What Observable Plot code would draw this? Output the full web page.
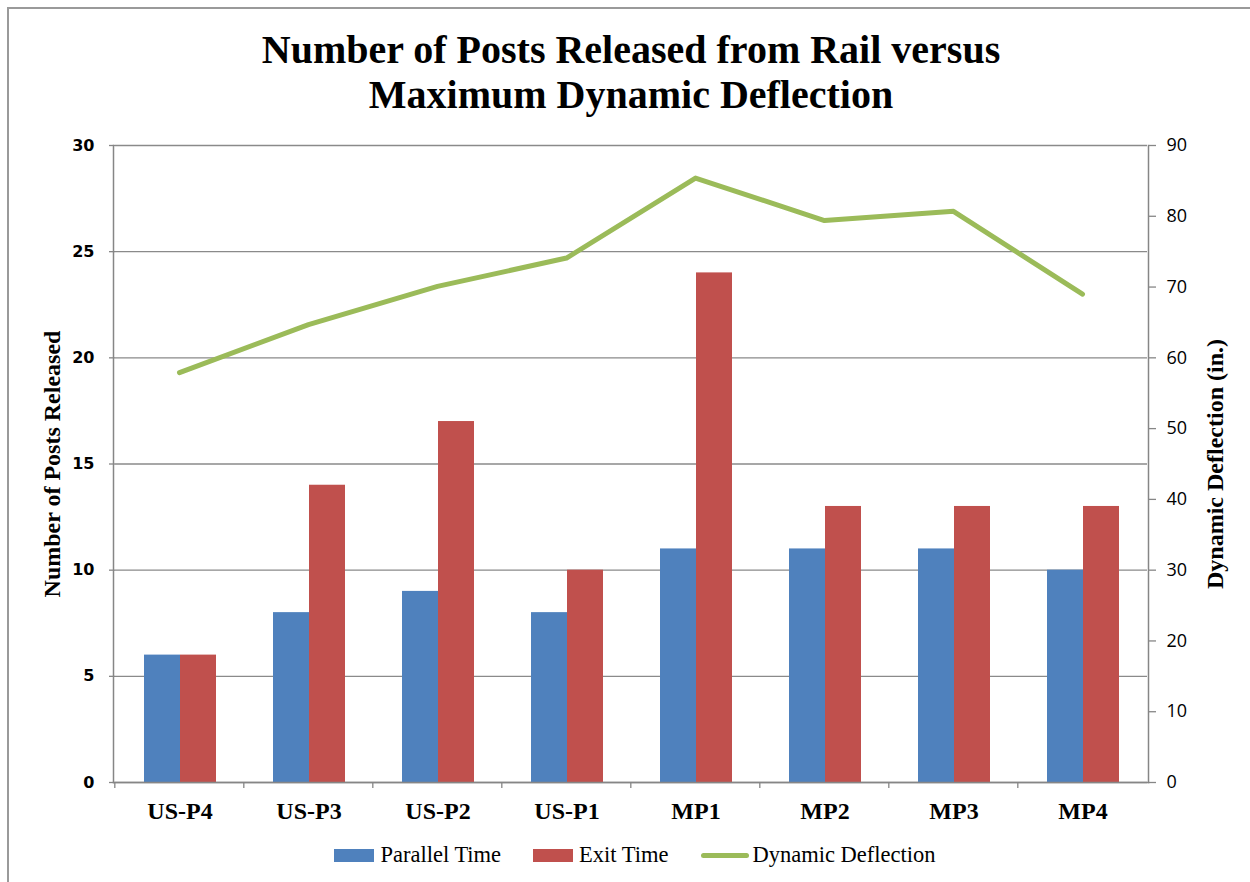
<!DOCTYPE html>
<html>
<head>
<meta charset="utf-8">
<script src="https://cdn.jsdelivr.net/npm/d3@7"></script>
<script src="https://cdn.jsdelivr.net/npm/@observablehq/plot@0.6"></script>
<style>
  body { margin: 0; background: #fff; }
  #wrap { position: relative; width: 1250px; height: 882px; overflow: hidden; background: #fff; }
  #frame { position: absolute; left: 7px; top: 7px; right: -10px; bottom: -10px;
           border-top: 2px solid #9a9a9a; border-left: 2px solid #9a9a9a; }
  #title { position: absolute; top: 27px; left: 0; width: 1262px; text-align: center;
           font: bold 40px "Liberation Serif", "Times New Roman", serif; line-height: 45px; color: #000; }
  .layer { position: absolute; left: 0; top: 120px; }
  #legend { position: absolute; top: 841px; left: 0; width: 1270px; height: 28px; display: flex;
            justify-content: center; align-items: center;
            font: 22.5px "Liberation Serif", "Times New Roman", serif; color: #000; }
  .item { display: flex; align-items: center; margin: 0 16px; }
  .sw { width: 40px; height: 13px; margin-right: 6px; }
  .ln { width: 48px; height: 5px; border-radius: 3px; margin-right: 4px; }
</style>
</head>
<body>
<div id="wrap">
  <div id="frame"></div>
  <div id="title">Number of Posts Released from Rail versus<br>Maximum Dynamic Deflection</div>
  <div id="bars" class="layer"></div>
  <div id="lines" class="layer"></div>
  <div id="legend"></div>
</div>
<script>
// ---- data ----
const categories = ["US-P4", "US-P3", "US-P2", "US-P1", "MP1", "MP2", "MP3", "MP4"];
const parallelTime = [6, 8, 9, 8, 11, 11, 11, 10];
const exitTime = [6, 14, 17, 10, 24, 13, 13, 13];
const dynamicDeflection = [57.9, 64.7, 70.1, 74.1, 85.4, 79.4, 80.7, 69.0];
const leftTicks = [0, 5, 10, 15, 20, 25, 30];
const rightTicks = [0, 10, 20, 30, 40, 50, 60, 70, 80, 90];
const seriesNames = ["Parallel Time", "Exit Time", "Dynamic Deflection"];
const seriesColors = ["#4F81BD", "#C0504D", "#9BBB59"];
const leftTitle = "Number of Posts Released";
const rightTitle = "Dynamic Deflection (in.)";

// ---- layout ----
const W = 1250, H = 720, ML = 113, MR = 102, MT = 25, MB = 58;
const axisGray = "#868686";
const serif = "Liberation Serif, Times New Roman, serif";

const bars = categories.flatMap((c, i) => [
  {category: c, series: seriesNames[0], value: parallelTime[i]},
  {category: c, series: seriesNames[1], value: exitTime[i]}
]);
const lineData = categories.map((c, i) => ({category: c, value: dynamicDeflection[i]}));

const barPlot = Plot.plot({
  width: W, height: H, marginLeft: ML, marginRight: MR, marginTop: MT, marginBottom: MB,
  style: {background: "transparent", color: "black", overflow: "visible"},
  fx: {domain: categories, padding: 0, label: null},
  x: {domain: seriesNames.slice(0, 2), paddingInner: 0, paddingOuter: 0.7626, axis: null},
  y: {domain: [0, 30], axis: null},
  color: {domain: seriesNames, range: seriesColors},
  marks: [
    Plot.gridY(leftTicks, {stroke: "#8a8a8a", strokeOpacity: 1, strokeWidth: 1.3}),
    Plot.barY(bars, {fx: "category", x: "series", y: "value", fill: "series"}),
    Plot.axisFx({anchor: "bottom", label: null, tickSize: 0, tickPadding: 19,
      fontSize: 24, fontWeight: "bold", fontFamily: serif, fill: "black"}),
    Plot.axisY(leftTicks, {anchor: "left", label: null, tickSize: 6, tickPadding: 15,
      stroke: axisGray, strokeWidth: 1.3, fill: "black",
      fontSize: 16, fontWeight: "bold", fontFamily: "DejaVu Sans, sans-serif"})
  ]
});
document.getElementById("bars").appendChild(barPlot);

const halfBand = (W - ML - MR) / categories.length / 2;

const linePlot = Plot.plot({
  width: W, height: H, marginLeft: ML, marginRight: MR, marginTop: MT, marginBottom: MB,
  style: {background: "transparent", color: "black", overflow: "visible"},
  x: {type: "point", domain: categories, padding: 0.5, axis: null},
  y: {domain: [0, 90], axis: null},
  marks: [
    Plot.frame({anchor: "left", stroke: axisGray, strokeWidth: 1.5}),
    Plot.frame({anchor: "right", stroke: axisGray, strokeWidth: 1.5}),
    Plot.frame({anchor: "bottom", stroke: axisGray, strokeWidth: 1.5}),
    Plot.axisX({anchor: "bottom", tickSize: 6, tickFormat: () => "", dx: -halfBand,
      stroke: axisGray, strokeWidth: 1.3, label: null}),
    Plot.axisY(rightTicks, {anchor: "right", label: null, tickSize: 7, tickPadding: 11,
      stroke: axisGray, strokeWidth: 1.3, fill: "black",
      fontSize: 18, fontFamily: "Open Sans, sans-serif"}),
    Plot.line(lineData, {x: "category", y: "value", stroke: seriesColors[2], strokeWidth: 5,
      strokeLinecap: "round", strokeLinejoin: "round"}),
    Plot.text([leftTitle], {text: d => d, frameAnchor: "left", dx: -61, rotate: -90,
      textAnchor: "middle", lineAnchor: "middle",
      fontSize: 24, fontWeight: "bold", fontFamily: serif, fill: "black"}),
    Plot.text([rightTitle], {text: d => d, frameAnchor: "right", dx: 67, rotate: -90,
      textAnchor: "middle", lineAnchor: "middle",
      fontSize: 24, fontWeight: "bold", fontFamily: serif, fill: "black"})
  ]
});
document.getElementById("lines").appendChild(linePlot);

// ---- legend ----
const legend = document.getElementById("legend");
seriesNames.forEach((name, i) => {
  const item = document.createElement("div");
  item.className = "item";
  const mark = document.createElement("div");
  mark.className = i < 2 ? "sw" : "ln";
  mark.style.background = seriesColors[i];
  const label = document.createElement("span");
  label.textContent = name;
  item.appendChild(mark);
  item.appendChild(label);
  legend.appendChild(item);
});
</script>
</body>
</html>
